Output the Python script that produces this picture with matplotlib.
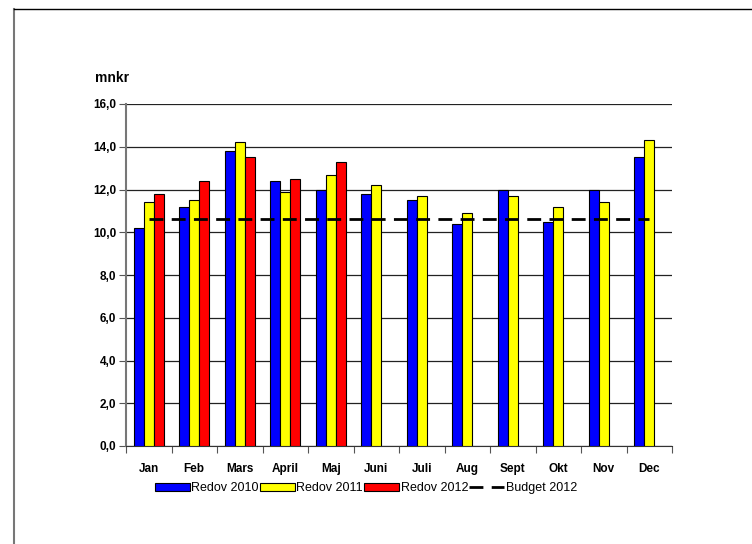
# Monthly outcome vs budget chart (mnkr)
import matplotlib.pyplot as plt
from matplotlib.lines import Line2D
import numpy as np

plt.rcParams['font.family'] = ['Liberation Sans', 'DejaVu Sans']

# Data
months = ["Jan", "Feb", "Mars", "April", "Maj", "Juni", "Juli", "Aug", "Sept", "Okt", "Nov", "Dec"]
redov_2010 = [10.2, 11.2, 13.8, 12.4, 12.0, 11.8, 11.5, 10.4, 12.0, 10.5, 12.0, 13.5]
redov_2011 = [11.4, 11.5, 14.2, 11.9, 12.7, 12.2, 11.7, 10.9, 11.7, 11.2, 11.4, 14.3]
redov_2012 = [11.8, 12.4, 13.5, 12.5, 13.3]
budget_2012 = [10.6] * 12
y_ticks = np.arange(0, 16.1, 2)

x = np.arange(len(months))
w = 0.22

fig = plt.figure(figsize=(7.52, 5.44), dpi=100)
ax = fig.add_axes([126 / 752, 1 - 446 / 544, 546 / 752, 342 / 544])

b1 = ax.bar(x - w, redov_2010, w, color='#0000FF', edgecolor='black', linewidth=0.8,
            label="Redov 2010", zorder=3)
b2 = ax.bar(x, redov_2011, w, color='#FFFF00', edgecolor='black', linewidth=0.8,
            label="Redov 2011", zorder=3)
b3 = ax.bar(x[:len(redov_2012)] + w, redov_2012, w, color='#FF0000', edgecolor='black',
            linewidth=0.8, label="Redov 2012", zorder=3)
l1, = ax.plot(x, budget_2012, color='black', linestyle=(0, (5, 3)), linewidth=2,
              label="Budget 2012", zorder=4)

ax.set_xlim(-0.5, len(months) - 0.5)
ax.set_ylim(0, 16)
ax.set_yticks(y_ticks)
ax.set_yticklabels([f"{v:.1f}".replace('.', ',') for v in y_ticks],
                   fontsize=8.5, fontweight='bold')
ax.yaxis.grid(True, color='#222222', linewidth=0.9, zorder=0)
ax.set_axisbelow(True)

ax.set_xticks(x)
ax.set_xticklabels(months, fontsize=8.5, fontweight='bold')
ax.set_xticks(np.arange(-0.5, len(months)), minor=True)
ax.tick_params(axis='x', which='major', length=0, pad=12)
ax.tick_params(axis='x', which='minor', length=5, width=0.8, color='#555555')
ax.tick_params(axis='y', length=5, width=0.8, color='#555555', pad=2)

for side in ['top', 'right']:
    ax.spines[side].set_visible(False)
ax.spines['left'].set_color('#777777')
ax.spines['left'].set_linewidth(1.5)
ax.spines['bottom'].set_color('#333333')

fig.text(95 / 752, 1 - 78 / 544, "mnkr", fontsize=10, fontweight='bold', va='center')

fig.legend([b1, b2, b3, l1], ["Redov 2010", "Redov 2011", "Redov 2012", "Budget 2012"],
           loc='center', bbox_to_anchor=(366 / 752, 1 - 488 / 544), ncol=4,
           frameon=False, fontsize=9, handlelength=2.8, handleheight=0.6,
           handletextpad=0.1, columnspacing=0.1)

# outer chart frame (partially visible)
fig.add_artist(Line2D([14 / 752, 14 / 752], [0, 1 - 9 / 544], color='#777777', linewidth=1.5))
fig.add_artist(Line2D([14 / 752, 1], [1 - 9 / 544, 1 - 9 / 544], color='black', linewidth=1))

fig.savefig("out.png", dpi=100)
